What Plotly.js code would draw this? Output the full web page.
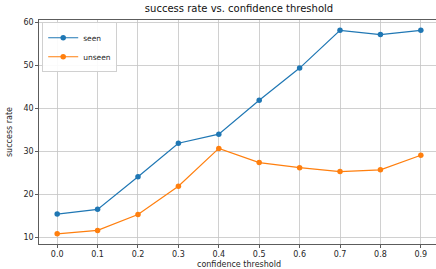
<!DOCTYPE html>
<html><head><meta charset="utf-8">
<script src="https://cdn.plot.ly/plotly-3.0.1.min.js"></script>
<style>html,body{margin:0;padding:0;overflow:hidden;background:#fff;width:436px;height:269px}</style>
</head><body><div id="chart"></div>
<script>
const thresholds = [0.0, 0.1, 0.2, 0.3, 0.4, 0.5, 0.6, 0.7, 0.8, 0.9];
const seen = [15.4, 16.5, 24.1, 31.9, 34.0, 41.9, 49.4, 58.2, 57.2, 58.2];
const unseen = [10.8, 11.6, 15.3, 21.9, 30.7, 27.4, 26.2, 25.3, 25.7, 29.1];
const tickVals = [0.0, 0.1, 0.2, 0.3, 0.4, 0.5, 0.6, 0.7, 0.8, 0.9];
const tickText = ['0.0','0.1','0.2','0.3','0.4','0.5','0.6','0.7','0.8','0.9'];

const font = {family: 'DejaVu Sans', size: 8, color: '#262626'};
const traces = [
  {x: thresholds, y: seen, name: 'seen', mode: 'lines+markers',
   line: {color: '#1f77b4', width: 1.2}, marker: {color: '#1f77b4', size: 5.5}},
  {x: thresholds, y: unseen, name: 'unseen', mode: 'lines+markers',
   line: {color: '#ff7f0e', width: 1.2}, marker: {color: '#ff7f0e', size: 5.5}}
];
const axisCommon = {showline: true, mirror: true, linecolor: '#333', linewidth: 0.8,
  ticks: 'outside', ticklen: 3, tickwidth: 0.8, tickcolor: '#333',
  showgrid: true, gridcolor: '#c4c4c4', gridwidth: 0.8, zeroline: false, tickfont: font};
const layout = {
  width: 440, height: 269,
  margin: {l: 39, r: 1, t: 20, b: 25},
  paper_bgcolor: '#fff', plot_bgcolor: '#fff',
  font: font,
  title: {text: 'success rate vs. confidence threshold', font: {family: 'DejaVu Sans', size: 10, color: '#111'},
          x: 0.5, xref: 'paper', y: 1, yref: 'container', yanchor: 'top', pad: {t: 5}},
  xaxis: Object.assign({}, axisCommon, {range: [-0.045, 0.945], tickvals: tickVals, ticktext: tickText,
    title: {text: 'confidence threshold', font: {family: 'DejaVu Sans', size: 8, color: '#262626'}, standoff: 3}}),
  yaxis: Object.assign({}, axisCommon, {range: [8.43, 60.6], tickvals: [10,20,30,40,50,60],
    title: {text: 'success rate', font: {family: 'DejaVu Sans', size: 8, color: '#262626'}, standoff: 9}}),
  showlegend: true,
  legend: {x: 0.008, y: 0.99, xanchor: 'left', yanchor: 'top', bgcolor: 'rgba(255,255,255,0.9)',
    bordercolor: '#d0d0d0', borderwidth: 1, font: {family: 'DejaVu Sans', size: 7.5, color: '#262626'},
    itemwidth: 30, tracegroupgap: 0}
};
Plotly.newPlot('chart', traces, layout, {displayModeBar: false, staticPlot: true});
</script></body></html>
